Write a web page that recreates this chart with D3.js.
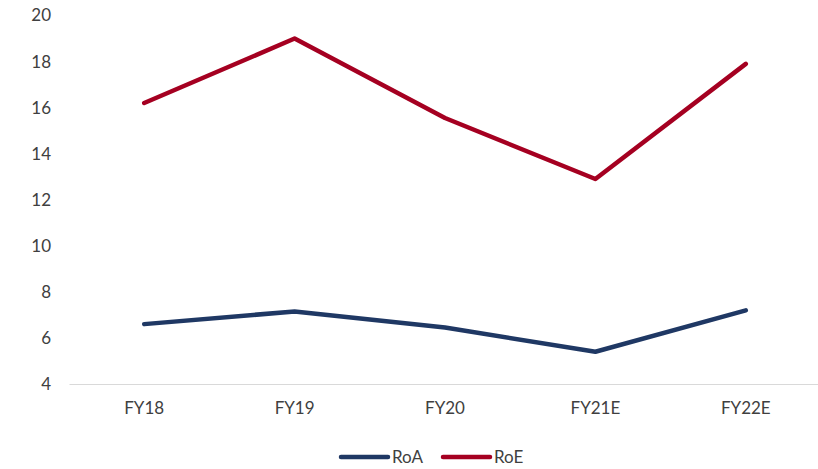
<!DOCTYPE html>
<html>
<head>
<meta charset="utf-8">
<script src="https://cdn.jsdelivr.net/npm/d3@7"></script>
<style>
  html, body { margin: 0; padding: 0; background: #fff; }
  svg { display: block; }
  text { font-family: Lato, "Open Sans", sans-serif; fill: #404040; }
</style>
</head>
<body>
<svg id="chart" width="818" height="469"></svg>
<script>
// Return ratios by fiscal year
const categories = ["FY18", "FY19", "FY20", "FY21E", "FY22E"];
const roa = [6.6, 7.15, 6.45, 5.4, 7.2];
const roe = [16.2, 19.0, 15.55, 12.9, 17.9];
const yTicks = [4, 6, 8, 10, 12, 14, 16, 18, 20];

const seriesList = [
  { name: "RoA", values: roa, color: "#1F3864" },
  { name: "RoE", values: roe, color: "#A50021" }
];

const FONT = "Lato, 'Open Sans', sans-serif";
const svg = d3.select("#chart");

const x = d3.scaleBand().domain(categories).range([69, 821]);
const y = d3.scaleLinear().domain([4, 20]).range([384, 15.5]);

// Horizontal category axis
const xAxis = svg.append("g")
  .attr("transform", `translate(0,${y(4)})`)
  .call(d3.axisBottom(x).tickSize(0).tickPadding(18));
xAxis.select(".domain").attr("stroke", "#d9d9d9").attr("stroke-width", 1.2);
xAxis.selectAll("text").style("font-size", "17px").attr("fill", "#404040")
  .style("font-family", FONT);

// Value axis: labels only
const yAxis = svg.append("g")
  .attr("transform", "translate(51,0)")
  .call(d3.axisLeft(y).tickValues(yTicks).tickSize(0).tickPadding(0));
yAxis.select(".domain").remove();
yAxis.selectAll("text").style("font-size", "17px").attr("fill", "#404040")
  .style("font-family", FONT);

const line = d3.line()
  .x((d, i) => x(categories[i]) + x.bandwidth() / 2)
  .y(d => y(d));

svg.append("g").selectAll("path")
  .data(seriesList)
  .join("path")
  .attr("d", d => line(d.values))
  .attr("fill", "none")
  .attr("stroke", d => d.color)
  .attr("stroke-width", 4.5)
  .attr("stroke-linecap", "round")
  .attr("stroke-linejoin", "round");

// Legend
const legend = svg.append("g").attr("transform", "translate(341,457)");
const item = legend.selectAll("g")
  .data(seriesList)
  .join("g")
  .attr("transform", (d, i) => `translate(${i * 102},0)`);
item.append("line")
  .attr("x1", 0).attr("x2", 47)
  .attr("stroke", d => d.color)
  .attr("stroke-width", 4.5)
  .attr("stroke-linecap", "round");
item.append("text")
  .attr("x", 51)
  .attr("dy", "0.35em")
  .style("font-size", "17px")
  .text(d => d.name);
</script>
</body>
</html>
